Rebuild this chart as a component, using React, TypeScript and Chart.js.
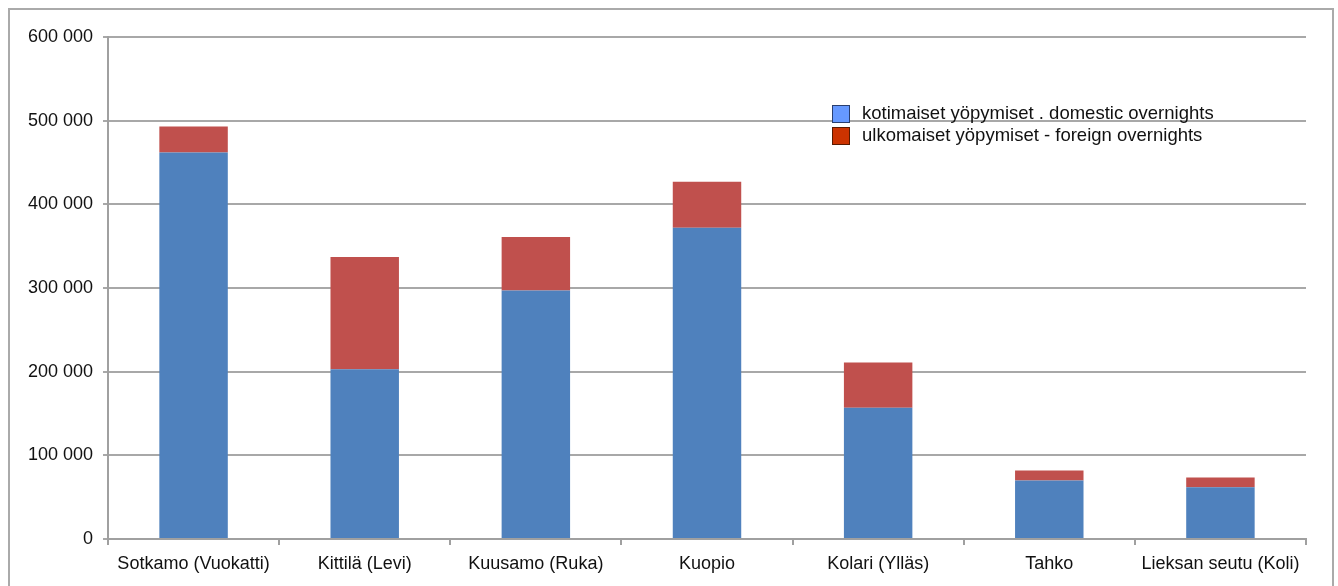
import React, { useEffect, useRef } from "react";
import { Chart, registerables } from "chart.js";

Chart.register(...registerables);

const categories = [
  "Sotkamo (Vuokatti)",
  "Kittilä (Levi)",
  "Kuusamo (Ruka)",
  "Kuopio",
  "Kolari (Ylläs)",
  "Tahko",
  "Lieksan seutu (Koli)",
];
const domestic = [462000, 203000, 297000, 372000, 157000, 70000, 62000];
const foreign = [31000, 134000, 64000, 55000, 54000, 12000, 11500];
const seriesNames = [
  "kotimaiset yöpymiset . domestic overnights",
  "ulkomaiset yöpymiset - foreign overnights",
];
const legendColors = ["#6699FF", "#CC3300"];
const legendBorders = ["#2a3f6f", "#5a1a00"];

const FONT = "'Liberation Sans', Arial, sans-serif";

const fmt = (v: number) => {
  const s = String(Math.round(v));
  return s.replace(/\B(?=(\d{3})+(?!\d))/g, " ");
};

const legendPlugin = {
  id: "customLegend",
  afterDraw(chart: any) {
    const ctx = chart.ctx;
    ctx.save();
    const x0 = 832;
    const ys = [105, 127];
    seriesNames.forEach((name, i) => {
      ctx.fillStyle = legendColors[i];
      ctx.fillRect(x0, ys[i], 18, 18);
      ctx.strokeStyle = legendBorders[i];
      ctx.lineWidth = 1;
      ctx.strokeRect(x0 + 0.5, ys[i] + 0.5, 17, 17);
      ctx.fillStyle = "#111";
      ctx.font = `18.5px ${FONT}`;
      ctx.textBaseline = "middle";
      ctx.textAlign = "left";
      ctx.fillText(name, 862, ys[i] + 9);
    });
    ctx.restore();
  },
};

export default function App() {
  const ref = useRef<HTMLCanvasElement | null>(null);
  useEffect(() => {
    if (!ref.current) return;
    const chart = new Chart(ref.current, {
      type: "bar",
      data: {
        labels: categories,
        datasets: [
          {
            label: seriesNames[0],
            data: domestic,
            backgroundColor: "#4F81BD",
            borderWidth: 0,
            barPercentage: 0.4,
            categoryPercentage: 1,
          },
          {
            label: seriesNames[1],
            data: foreign,
            backgroundColor: "#C0504D",
            borderWidth: 0,
            barPercentage: 0.4,
            categoryPercentage: 1,
          },
        ],
      },
      options: {
        responsive: false,
        animation: false,
        layout: { padding: { left: 0, top: 37, right: 32, bottom: 0 } },
        plugins: {
          legend: { display: false },
          tooltip: { enabled: false },
        },
        scales: {
          x: {
            stacked: true,
            grid: {
              display: true,
              drawOnChartArea: false,
              drawTicks: true,
              tickLength: 6,
              color: "#a0a0a0",
              lineWidth: 2,
              offset: true,
            },
            border: { display: true, color: "#a0a0a0", width: 2 },
            ticks: {
              color: "#111",
              font: { family: FONT, size: 18 },
              padding: 8,
              maxRotation: 0,
              autoSkip: false,
            },
            afterFit(scale: any) {
              scale.height = 47;
            },
          },
          y: {
            stacked: true,
            min: 0,
            max: 600000,
            grid: {
              color: "#a8a8a8",
              lineWidth: 2,
              tickLength: 5,
              drawTicks: true,
            },
            border: { display: true, color: "#a0a0a0", width: 2 },
            ticks: {
              stepSize: 100000,
              color: "#111",
              font: { family: FONT, size: 18 },
              padding: 10,
              callback: (v: any) => fmt(Number(v)),
            },
            afterFit(scale: any) {
              scale.width = 108;
            },
          },
        },
      },
      plugins: [legendPlugin],
    });
    return () => chart.destroy();
  }, []);
  return (
    <div style={{ position: "fixed", left: 0, top: 0, width: 1338, height: 586, background: "#fff" }}>
      <div
        style={{
          position: "absolute",
          left: 8,
          top: 8,
          width: 1322,
          height: 620,
          border: "2px solid #aaaaaa",
        }}
      />
      <canvas ref={ref} width={1338} height={586} style={{ position: "absolute", left: 0, top: 0 }} />
    </div>
  );
}
